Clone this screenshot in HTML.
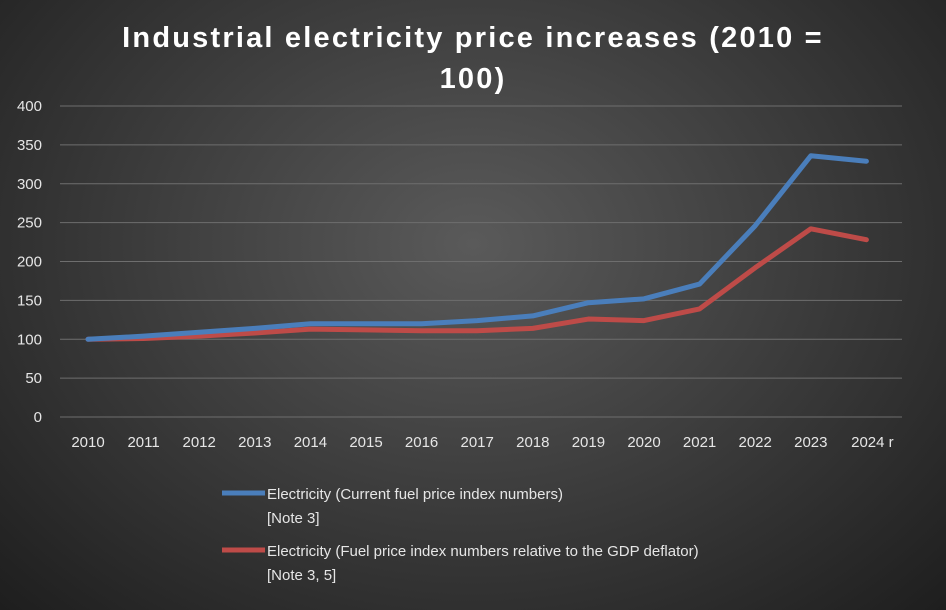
<!DOCTYPE html>
<html><head><meta charset="utf-8"><style>
html,body{margin:0;padding:0;}
body{width:946px;height:610px;overflow:hidden;background:radial-gradient(ellipse at 50% 40%,#5a5a5a 0%,#3c3c3c 50%,#1e1e1e 100%);font-family:"Liberation Sans",sans-serif;}
svg{position:absolute;left:0;top:0}
</style></head><body>
<svg width="946" height="610">
<g id="grid"></g><g id="series"></g>
<text x="473" y="47" text-anchor="middle" fill="#fff" font-size="29" font-weight="bold" letter-spacing="2.2">Industrial electricity price increases (2010 =</text>
<text x="473" y="88" text-anchor="middle" fill="#fff" font-size="29" font-weight="bold" letter-spacing="2.2">100)</text>
<g>
<line x1="222" y1="493" x2="265" y2="493" stroke="#4a7ebb" stroke-width="5"/>
<text x="267" y="499" fill="#e6e6e6" font-size="15">Electricity (Current fuel price index numbers)</text>
<text x="267" y="523" fill="#e6e6e6" font-size="15">[Note 3]</text>
<line x1="222" y1="550" x2="265" y2="550" stroke="#be4b48" stroke-width="5"/>
<text x="267" y="556" fill="#e6e6e6" font-size="15">Electricity (Fuel price index numbers relative to the GDP deflator)</text>
<text x="267" y="580" fill="#e6e6e6" font-size="15">[Note 3, 5]</text>
</g>
</svg>
<script>
const categories=["2010","2011","2012","2013","2014","2015","2016","2017","2018","2019","2020","2021","2022","2023","2024 r"];
const currentPrices=[100,104,109,114,120,120,120,124,130,147,152,171,246,336,329];
const relativeGdp=[100,101,104,108,113,112,111,111,114,126,124,139,192,242,228];
const yTicks=[0,50,100,150,200,250,300,350,400];
const NS="http://www.w3.org/2000/svg";
const y=v=>417-v*(311/400);
const x=i=>88+i*55.6;
const grid=document.getElementById('grid');
function mk(t,a,p){const e=document.createElementNS(NS,t);for(const k in a)e.setAttribute(k,a[k]);p.appendChild(e);return e;}
yTicks.forEach(t=>{
 const l=mk('line',{x1:60,x2:902,y1:y(t),y2:y(t),stroke:'#6e6e6e','stroke-width':1},grid);
 
 
 const tx=mk('text',{x:42,y:y(t)+5,'text-anchor':'end',fill:'#e6e6e6','font-size':15},grid);
 tx.textContent=t;
 
 
});
categories.forEach((c,i)=>{
 const tx=mk('text',{x:x(i)+(i==14?6:0),y:447,'text-anchor':'middle',fill:'#e6e6e6','font-size':15},grid);
 tx.textContent=c;
 
 
});
const s=document.getElementById('series');
[[relativeGdp,'#be4b48','relative-gdp-line'],[currentPrices,'#4a7ebb','current-price-line']].forEach(([d,c,n])=>{
 const p=mk('polyline',{points:d.map((v,i)=>x(i)+','+y(v)).join(' '),fill:'none',stroke:c,'stroke-width':5,'stroke-linejoin':'round','stroke-linecap':'round'},s);
 
 
});
</script>
</body></html>
